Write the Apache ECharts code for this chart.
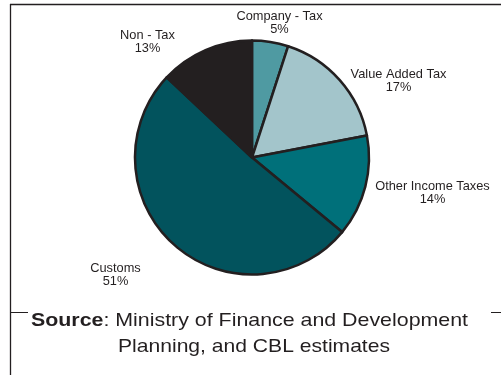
<!DOCTYPE html>
<html>
<head>
<meta charset="utf-8">
<style>
  html, body { margin: 0; padding: 0; background: #ffffff; }
  #chart { width: 501px; height: 375px; }
</style>
<script src="https://cdn.jsdelivr.net/npm/echarts@6/dist/echarts.min.js"></script>
</head>
<body>
<div id="chart"></div>
<script>
// Revenue composition (share of total, %)
var categories = ['Company - Tax', 'Value Added Tax', 'Other Income Taxes', 'Customs', 'Non - Tax'];
var shares = [5, 17, 14, 51, 13];
var sliceColors = ['#4f9aa2', '#a3c5cb', '#00707a', '#02535d', '#231f20'];

// label anchor points (centre of each two-line label)
var labelSpots = [[279.5, 22.5], [398.5, 81], [432.5, 192.5], [115.5, 274.5], [147.5, 41.5]];

var FONT = '"Liberation Sans", Arial, Helvetica, sans-serif';
var INK = '#231f20';

var chart = echarts.init(document.getElementById('chart'), null, { renderer: 'canvas' });

chart.setOption({
  animation: false,
  backgroundColor: '#ffffff',
  series: [{
    type: 'pie',
    center: [252, 157.5],
    radius: [0, 117],
    startAngle: 90,
    clockwise: true,
    silent: true,
    data: categories.map(function (name, i) {
      return { name: name, value: shares[i], itemStyle: { color: sliceColors[i] } };
    }),
    itemStyle: { borderColor: INK, borderWidth: 2.5 },
    label: {
      show: true,
      position: 'outside',
      formatter: '{b}\n{c}%',
      color: INK,
      fontFamily: FONT,
      fontSize: 12.8,
      lineHeight: 13,
      align: 'center',
      overflow: 'none'
    },
    labelLine: { show: false },
    labelLayout: function (params) {
      var p = labelSpots[params.dataIndex];
      return { x: p[0], y: p[1], align: 'center', verticalAlign: 'middle' };
    }
  }],
  graphic: [
    // frame: top and left rules
    { type: 'line', shape: { x1: 10, y1: 4.5, x2: 501, y2: 4.5 }, style: { stroke: INK, lineWidth: 1.3 } },
    { type: 'line', shape: { x1: 10.5, y1: 4, x2: 10.5, y2: 375 }, style: { stroke: INK, lineWidth: 1.3 } },
    // rules either side of the source note
    { type: 'line', shape: { x1: 10, y1: 312.5, x2: 28, y2: 312.5 }, style: { stroke: INK, lineWidth: 1 } },
    { type: 'line', shape: { x1: 491, y1: 312.5, x2: 501, y2: 312.5 }, style: { stroke: INK, lineWidth: 1 } },
    {
      type: 'text',
      x: 249.5, y: 321, scaleX: 1.155,
      style: {
        text: '{b|Source}: Ministry of Finance and Development',
        fill: INK,
        font: '18.5px ' + FONT,
        align: 'center',
        verticalAlign: 'middle',
        rich: { b: { fontWeight: 'bold', fontSize: 18.5, fontFamily: FONT, fill: INK } }
      }
    },
    {
      type: 'text',
      x: 254, y: 346.5, scaleX: 1.14,
      style: {
        text: 'Planning, and CBL estimates',
        fill: INK,
        font: '18.5px ' + FONT,
        align: 'center',
        verticalAlign: 'middle'
      }
    }
  ]
});
</script>
</body>
</html>
